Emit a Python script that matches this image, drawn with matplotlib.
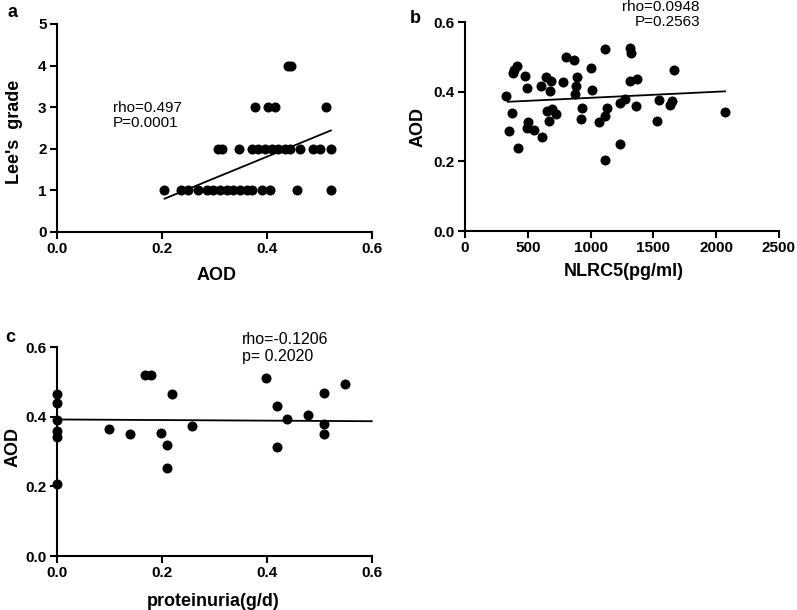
import matplotlib
matplotlib.use('Agg')
import matplotlib.pyplot as plt

# ==================== data ====================
# panel a: AOD vs Lee's grade
a_aod = [0.204, 0.236, 0.250, 0.269, 0.286, 0.297, 0.310, 0.324, 0.335, 0.349,
         0.362, 0.371, 0.390, 0.406, 0.457, 0.522,
         0.307, 0.314, 0.347, 0.371, 0.383, 0.396, 0.410, 0.421, 0.434, 0.444,
         0.463, 0.488, 0.501, 0.522,
         0.377, 0.402, 0.415, 0.512,
         0.440, 0.446]
a_grade = [1] * 16 + [2] * 14 + [3] * 4 + [4] * 2
a_fit_x = [0.205, 0.522]
a_fit_y = [0.80, 2.44]

# panel b: NLRC5 vs AOD
b_nlrc5 = [329, 350, 374, 379, 387, 416, 421, 474, 492, 500, 492, 553, 605, 613,
           645, 684, 676, 671, 650, 689, 724, 782, 803, 868, 895, 882, 876, 934,
           921, 1000, 1013, 1071, 1111, 1111, 1132, 1113, 1237, 1237, 1276, 1311,
           1321, 1316, 1368, 1361, 1526, 1545, 1632, 1645, 1663, 2071]
b_aod = [0.387, 0.287, 0.338, 0.455, 0.461, 0.475, 0.239, 0.446, 0.410, 0.312,
         0.295, 0.291, 0.415, 0.270, 0.443, 0.431, 0.403, 0.315, 0.344, 0.350,
         0.336, 0.427, 0.501, 0.491, 0.443, 0.417, 0.393, 0.352, 0.322, 0.467,
         0.405, 0.312, 0.522, 0.331, 0.353, 0.205, 0.250, 0.367, 0.379, 0.524,
         0.510, 0.430, 0.436, 0.358, 0.317, 0.376, 0.363, 0.372, 0.463, 0.343]
b_fit_x = [342, 2071]
b_fit_y = [0.371, 0.401]

# panel c: proteinuria vs AOD
c_prot = [0, 0, 0, 0, 0, 0, 0.099, 0.140, 0.167, 0.180, 0.199, 0.209, 0.210,
          0.219, 0.258, 0.398, 0.419, 0.419, 0.439, 0.479, 0.508, 0.508, 0.508,
          0.549]
c_aod = [0.465, 0.439, 0.390, 0.360, 0.342, 0.206, 0.366, 0.351, 0.521, 0.521,
         0.353, 0.318, 0.253, 0.466, 0.374, 0.512, 0.313, 0.430, 0.394, 0.406,
         0.469, 0.378, 0.351, 0.493]
c_fit_x = [0.0, 0.6]
c_fit_y = [0.392, 0.387]

# ==================== plotting ====================
plt.rcParams['font.family'] = ['Liberation Sans', 'DejaVu Sans']
plt.rcParams['axes.linewidth'] = 1.5

fig = plt.figure(figsize=(7.97, 6.10), dpi=100)
ax_a = fig.add_axes([0.0715, 0.6197, 0.395, 0.341])
ax_b = fig.add_axes([0.5834, 0.6213, 0.394, 0.3426])
ax_c = fig.add_axes([0.0715, 0.0885, 0.395, 0.3426])


def style(ax):
    for s in ('top', 'right'):
        ax.spines[s].set_visible(False)
    ax.tick_params(direction='out', length=5, width=1.5, pad=2.5,
                   labelsize=11, color='black')
    for lab in ax.get_xticklabels() + ax.get_yticklabels():
        lab.set_fontweight('bold')


def scatter(ax, x, y, fit_x, fit_y):
    ax.scatter(x, y, s=52, color='black', zorder=3, clip_on=False,
               linewidths=0)
    ax.plot(fit_x, fit_y, color='black', linewidth=1.3, zorder=2,
            clip_on=False)


# ---- a ----
scatter(ax_a, a_aod, a_grade, a_fit_x, a_fit_y)
ax_a.set_xlim(0, 0.6)
ax_a.set_ylim(0, 5)
ax_a.set_xticks([0.0, 0.2, 0.4, 0.6])
ax_a.set_xticklabels(['0.0', '0.2', '0.4', '0.6'])
ax_a.set_yticks(range(6))
style(ax_a)
ax_a.set_xlabel('AOD', fontsize=13, fontweight='bold')
ax_a.set_ylabel("Lee's  grade", fontsize=13, fontweight='bold')
ax_a.xaxis.set_label_coords(0.508, -0.168)
ax_a.yaxis.set_label_coords(-0.108, 0.48)
ax_a.text(0.107, 2.80, 'rho=0.497\nP=0.0001', fontsize=11,
          ha='left', va='center', linespacing=1.1)

# ---- b ----
scatter(ax_b, b_nlrc5, b_aod, b_fit_x, b_fit_y)
ax_b.set_xlim(0, 2500)
ax_b.set_ylim(0, 0.6)
ax_b.set_xticks([0, 500, 1000, 1500, 2000, 2500])
ax_b.set_yticks([0.0, 0.2, 0.4, 0.6])
ax_b.set_yticklabels(['0.0', '0.2', '0.4', '0.6'])
style(ax_b)
ax_b.set_xlabel('NLRC5(pg/ml)', fontsize=13, fontweight='bold')
ax_b.set_ylabel('AOD', fontsize=13, fontweight='bold')
ax_b.xaxis.set_label_coords(0.506, -0.153)
ax_b.yaxis.set_label_coords(-0.121, 0.50)
ax_b.text(1871, 0.622, 'rho=0.0948\nP=0.2563', fontsize=11,
          ha='right', va='center', multialignment='right',
          linespacing=1.1, clip_on=False)

# ---- c ----
scatter(ax_c, c_prot, c_aod, c_fit_x, c_fit_y)
ax_c.set_xlim(0, 0.6)
ax_c.set_ylim(0, 0.6)
ax_c.set_xticks([0.0, 0.2, 0.4, 0.6])
ax_c.set_xticklabels(['0.0', '0.2', '0.4', '0.6'])
ax_c.set_yticks([0.0, 0.2, 0.4, 0.6])
ax_c.set_yticklabels(['0.0', '0.2', '0.4', '0.6'])
style(ax_c)
ax_c.set_xlabel('proteinuria(g/d)', fontsize=13, fontweight='bold')
ax_c.set_ylabel('AOD', fontsize=13, fontweight='bold')
ax_c.xaxis.set_label_coords(0.496, -0.177)
ax_c.yaxis.set_label_coords(-0.111, 0.52)
ax_c.text(0.352, 0.597, 'rho=-0.1206\np= 0.2020', fontsize=11.5,
          ha='left', va='center', linespacing=1.15)

# panel letters
fig.text(0.009, 0.972, 'a', fontsize=13, fontweight='bold', va='baseline')
fig.text(0.514, 0.962, 'b', fontsize=13, fontweight='bold', va='baseline')
fig.text(0.006, 0.439, 'c', fontsize=13, fontweight='bold', va='baseline')

fig.savefig('out.png', dpi=100)
